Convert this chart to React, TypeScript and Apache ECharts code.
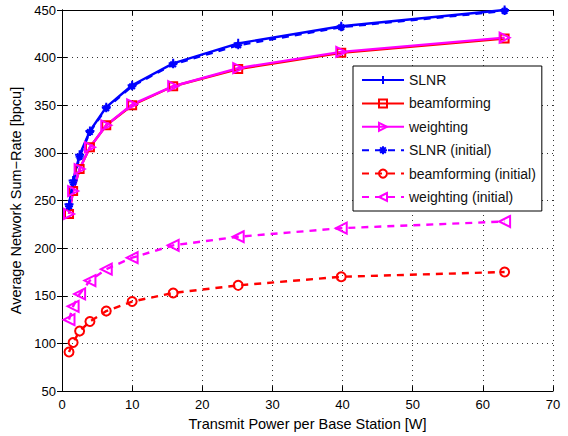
import React, { useEffect, useRef } from "react";
import * as echarts from "echarts";

const power = [1, 1.585, 2.512, 3.981, 6.31, 10, 15.85, 25.12, 39.81, 63.1];
const slnr = [246, 271, 298, 323, 348, 371, 394, 415, 433, 450];
const beamforming = [236, 260, 283, 306, 329, 350, 370, 388, 405, 420];
const weighting = [236, 260, 283, 306, 329, 351, 370, 389, 406, 421];
const slnrInitial = [244, 269, 296, 322, 347, 370, 393, 413, 432, 449];
const beamformingInitial = [91, 101, 113, 123, 134, 144, 153, 161, 170, 175];
const weightingInitial = [125, 139, 152, 166, 178, 190, 203, 212, 221, 228];

const FONT = "'Liberation Sans', Arial, Helvetica, sans-serif";
const BLUE = "#0000ff";
const RED = "#ff0000";
const MAG = "#ff00ff";

const PLUS = "path://M5,0 L5,10 M0,5 L10,5";
const STAR = "path://M5,0 L5,10 M0,5 L10,5 M1.5,1.5 L8.5,8.5 M8.5,1.5 L1.5,8.5";
const TRI_R = "path://M0,0 L10,5 L0,10 Z";
const TRI_L = "path://M10,0 L0,5 L10,10 Z";

function pairs(ys: number[]) {
  return power.map((x, i) => [x, ys[i]]);
}

function mk(
  name: string,
  ys: number[],
  color: string,
  dashed: boolean,
  symbol: string,
  size: number,
  fill: string
) {
  return {
    name,
    type: "line",
    data: pairs(ys),
    symbol,
    symbolSize: size,
    showAllSymbol: true,
    lineStyle: { color, width: 2.4, type: dashed ? [7, 6] : "solid" },
    itemStyle: { color: fill, borderColor: color, borderWidth: 2 },
    emphasis: { disabled: true },
    z: 3,
  };
}

export default function App() {
  const ref = useRef<HTMLDivElement>(null);
  useEffect(() => {
    if (!ref.current) return;
    const chart = echarts.init(ref.current, undefined, { renderer: "svg" });
    const gridLine = { show: true, lineStyle: { color: "#333", type: [1, 4], width: 1 } };
    chart.setOption({
      animation: false,
      backgroundColor: "#fff",
      textStyle: { fontFamily: FONT },
      grid: { left: 62, right: 15, top: 10, bottom: 39, containLabel: false },
      legend: {
        orient: "vertical",
        left: 353,
        top: 66,
        backgroundColor: "#fff",
        borderColor: "#000",
        borderWidth: 1,
        padding: [7, 6, 7, 8],
        itemWidth: 42,
        itemHeight: 10,
        itemGap: 9.4,
        textStyle: { fontSize: 14, color: "#111", fontFamily: FONT, lineHeight: 14 },
        data: [
          "SLNR",
          "beamforming",
          "weighting",
          "SLNR (initial)",
          "beamforming (initial)",
          "weighting (initial)",
        ],
      },
      xAxis: [
        {
          type: "value",
          min: 0,
          max: 70,
          interval: 10,
          name: "Transmit Power per Base Station [W]",
          nameLocation: "middle",
          nameGap: 21,
          nameTextStyle: { fontSize: 14.5, color: "#000", fontFamily: FONT },
          axisLine: { lineStyle: { color: "#000", width: 1 } },
          axisTick: { inside: true, length: 5, lineStyle: { color: "#000" } },
          axisLabel: { fontSize: 13, color: "#000", margin: 7, fontFamily: FONT },
          splitLine: gridLine,
        },
        {
          type: "value",
          position: "top",
          min: 0,
          max: 70,
          interval: 10,
          axisLine: { show: true, lineStyle: { color: "#000", width: 1 } },
          axisTick: { inside: true, length: 5, lineStyle: { color: "#000" } },
          axisLabel: { show: false },
          splitLine: { show: false },
        },
      ],
      yAxis: [
        {
          type: "value",
          min: 50,
          max: 450,
          interval: 50,
          name: "Average Network Sum\u2212Rate [bpcu]",
          nameLocation: "middle",
          nameGap: 37,
          nameTextStyle: { fontSize: 14.5, color: "#000", fontFamily: FONT },
          axisLine: { show: true, lineStyle: { color: "#000", width: 1 } },
          axisTick: { show: true, inside: true, length: 5, lineStyle: { color: "#000" } },
          axisLabel: { fontSize: 13, color: "#000", margin: 6, fontFamily: FONT },
          splitLine: gridLine,
        },
        {
          type: "value",
          position: "right",
          min: 50,
          max: 450,
          interval: 50,
          axisLine: { show: true, lineStyle: { color: "#000", width: 1 } },
          axisTick: { show: true, inside: true, length: 5, lineStyle: { color: "#000" } },
          axisLabel: { show: false },
          splitLine: { show: false },
        },
      ],
      series: [
        mk("SLNR", slnr, BLUE, false, PLUS, 9, BLUE),
        mk("beamforming", beamforming, RED, false, "rect", 8, "transparent"),
        mk("weighting", weighting, MAG, false, TRI_R, 10, "transparent"),
        mk("SLNR (initial)", slnrInitial, BLUE, true, STAR, 8, BLUE),
        mk("beamforming (initial)", beamformingInitial, RED, true, "circle", 9, "transparent"),
        mk("weighting (initial)", weightingInitial, MAG, true, TRI_L, 11, "transparent"),
      ],
    });
    return () => chart.dispose();
  }, []);
  return (
    <div
      ref={ref}
      style={{ position: "absolute", left: 0, top: 0, width: 568, height: 436 }}
    />
  );
}
